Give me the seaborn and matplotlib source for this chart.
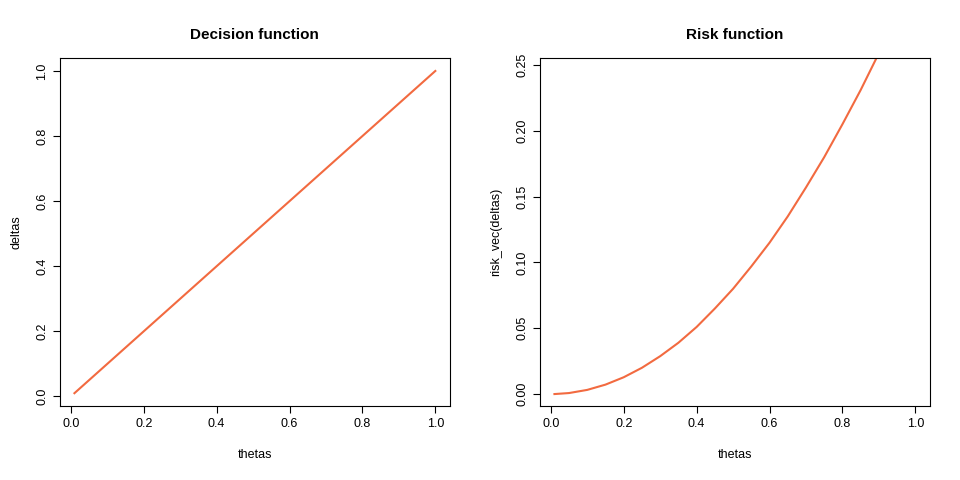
import matplotlib
matplotlib.use("Agg")
import matplotlib.pyplot as plt
import seaborn as sns
import pandas as pd

plt.rcParams["font.family"] = "Liberation Sans"

thetas = [0.01, 0.05, 0.1, 0.15, 0.2, 0.25, 0.3, 0.35, 0.4, 0.45, 0.5, 0.55,
          0.6, 0.65, 0.7, 0.75, 0.8, 0.85, 0.9, 0.95, 1.0]
deltas = [0.01, 0.05, 0.1, 0.15, 0.2, 0.25, 0.3, 0.35, 0.4, 0.45, 0.5, 0.55,
          0.6, 0.65, 0.7, 0.75, 0.8, 0.85, 0.9, 0.95, 1.0]
risk = [0.00003, 0.0008, 0.0032, 0.0072, 0.0128, 0.02, 0.0288, 0.039, 0.051,
        0.065, 0.08, 0.097, 0.115, 0.135, 0.157, 0.18, 0.205, 0.231, 0.259,
        0.289, 0.32]
df = pd.DataFrame({"thetas": thetas, "deltas": deltas, "risk": risk})
color = "#F26A40"

fig = plt.figure(figsize=(9.6, 4.8), dpi=100)
axL = fig.add_axes([0.0625, 0.154, 0.406, 0.725])
axR = fig.add_axes([0.5625, 0.154, 0.406, 0.725])

sns.lineplot(data=df, x="thetas", y="deltas", ax=axL, color=color, lw=1.5)
sns.lineplot(data=df, x="thetas", y="risk", ax=axR, color=color, lw=1.5)

axL.set_xlim(-0.0296, 1.0396); axL.set_ylim(-0.0296, 1.0396)
axL.set_yticks([0, 0.2, 0.4, 0.6, 0.8, 1.0])
axL.set_yticklabels(["0.0", "0.2", "0.4", "0.6", "0.8", "1.0"])
axR.set_xlim(-0.0296, 1.0396); axR.set_ylim(-0.0091, 0.2553)
axR.set_yticks([0, 0.05, 0.1, 0.15, 0.2, 0.25])
axR.set_yticklabels(["0.00", "0.05", "0.10", "0.15", "0.20", "0.25"])

for ax, t, yl in [(axL, "Decision function", "deltas"), (axR, "Risk function", "risk_vec(deltas)")]:
    ax.set_xticks([0, 0.2, 0.4, 0.6, 0.8, 1.0])
    ax.set_xticklabels(["0.0", "0.2", "0.4", "0.6", "0.8", "1.0"])
    ax.set_title(t, fontweight="bold", fontsize=11, pad=14)
    ax.set_xlabel("thetas", fontsize=9, labelpad=14)
    ax.set_ylabel(yl, fontsize=9, labelpad=10)
    ax.tick_params(labelsize=9, direction="out", length=5)
    for lab in ax.get_yticklabels():
        lab.set_rotation(90); lab.set_va("center")
    for s in ax.spines.values():
        s.set_linewidth(0.8)

fig.savefig("out.png", dpi=100)
